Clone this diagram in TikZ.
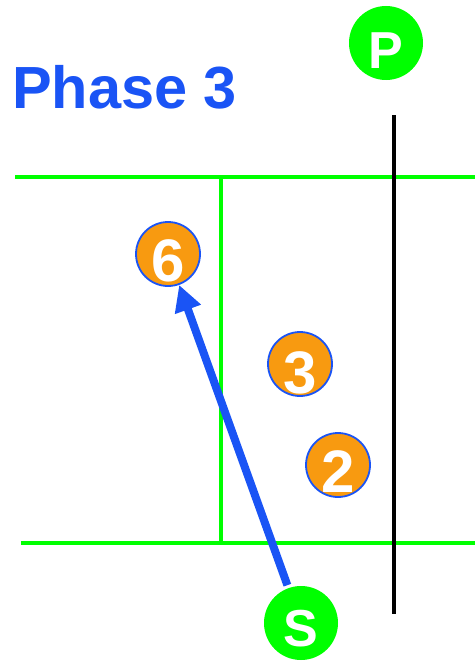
\documentclass[tikz,border=0pt]{standalone}
\usepackage{fontspec}
\setmainfont{Liberation Sans}
\usetikzlibrary{arrows.meta}
\definecolor{myblue}{RGB}{26,84,245}
\definecolor{mygreen}{RGB}{0,255,0}
\definecolor{myorange}{RGB}{248,154,16}
\begin{document}
\begin{tikzpicture}[x=1pt,y=-1pt,
  field/.style={draw=mygreen,line width=3.6pt},
  net/.style={draw=black,line width=3.6pt},
  player/.style={circle,fill=myorange,draw=myblue,line width=1.8pt,minimum size=64pt,inner sep=0pt},
  coach/.style={circle,fill=mygreen,draw=none,minimum size=74pt,inner sep=0pt},
  digit/.style={text=white,font=\fontsize{60}{60}\selectfont\bfseries,inner sep=0pt},
  letter/.style={text=white,font=\fontsize{52}{52}\selectfont\bfseries,inner sep=0pt},
  move/.style={draw=myblue,line width=8pt,-{Triangle[length=26pt,width=26pt]},shorten <=3pt}]
\useasboundingbox (0,0) rectangle (475,661);
% title
\node[anchor=base west,inner sep=0pt,text=myblue,font=\fontsize{59.5}{59.5}\selectfont\bfseries] (title) at (12,108) {Phase 3};
% court lines
\coordinate (tl) at (15,177);
\coordinate (tr) at (475,177);
\coordinate (bl) at (21,543);
\coordinate (br) at (475,543);
\coordinate (at) at (221,177);
\coordinate (ab) at (221,543);
\coordinate (nt) at (394,115);
\coordinate (nb) at (394,614);
\draw[field] (tl) -- (tr);
\draw[field] (bl) -- (br);
\draw[field] (at) -- (ab);
\draw[net] (nt) -- (nb);
% coaches
\node[coach] (P) at (386,43) {};
\node[letter] (Pt) at ([yshift=-8]P.center) {P};
\node[coach] (S) at (301,623) {};
\node[letter] (St) at ([yshift=-6]S.center) {S};
% players
\node[player] (n6) at (168,254) {};
\node[digit] (t6) at ([yshift=-7]n6.center) {6};
\node[player] (n3) at (300,364) {};
\node[digit] (t3) at ([yshift=-9]n3.center) {3};
\node[player] (n2) at (338,465) {};
\node[digit] (t2) at ([yshift=-7]n2.center) {2};
% movement
\draw[move] (S) -- (n6);
\end{tikzpicture}
\end{document}
